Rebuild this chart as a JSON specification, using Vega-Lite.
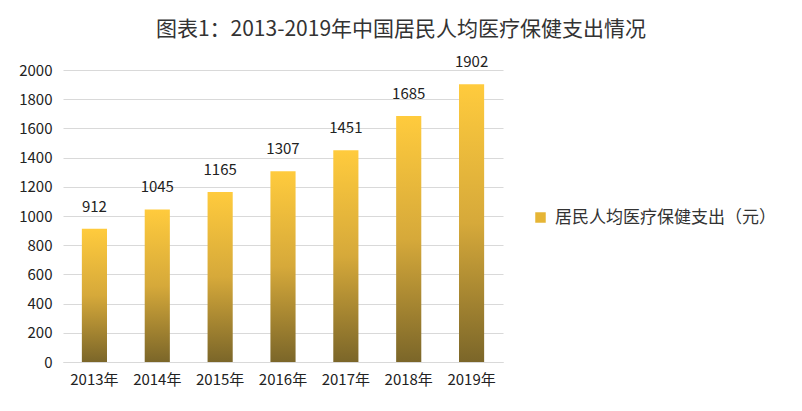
{
  "$schema": "https://vega.github.io/schema/vega-lite/v6.json",
  "width": 440,
  "height": 292,
  "autosize": "none",
  "padding": {"left": 63, "top": 70, "right": 299, "bottom": 49},
  "background": "white",
  "title": {
    "text": "图表1：2013-2019年中国居民人均医疗保健支出情况",
    "anchor": "middle",
    "dx": 118,
    "offset": 15,
    "font": "Noto Sans CJK SC",
    "fontSize": 21,
    "fontWeight": "normal",
    "color": "#333333"
  },
  "data": {
    "values": [
      {"year": "2013年", "value": 912, "series": "居民人均医疗保健支出（元）"},
      {"year": "2014年", "value": 1045, "series": "居民人均医疗保健支出（元）"},
      {"year": "2015年", "value": 1165, "series": "居民人均医疗保健支出（元）"},
      {"year": "2016年", "value": 1307, "series": "居民人均医疗保健支出（元）"},
      {"year": "2017年", "value": 1451, "series": "居民人均医疗保健支出（元）"},
      {"year": "2018年", "value": 1685, "series": "居民人均医疗保健支出（元）"},
      {"year": "2019年", "value": 1902, "series": "居民人均医疗保健支出（元）"}
    ]
  },
  "config": {
    "view": {"stroke": null},
    "font": "Noto Sans CJK SC"
  },
  "encoding": {
    "x": {
      "field": "year",
      "type": "nominal",
      "sort": null,
      "scale": {"paddingInner": 0.6, "paddingOuter": 0.3},
      "axis": {
        "title": null,
        "labelAngle": 0,
        "labelFont": "Noto Sans CJK SC",
        "labelFontSize": 15,
        "labelColor": "#222222",
        "labelPadding": 10,
        "ticks": false,
        "domainColor": "#d9d9d9",
        "domainWidth": 1
      }
    },
    "y": {
      "field": "value",
      "type": "quantitative",
      "scale": {"domain": [0, 2000]},
      "axis": {
        "title": null,
        "format": "d",
        "values": [0, 200, 400, 600, 800, 1000, 1200, 1400, 1600, 1800, 2000],
        "labelFont": "Noto Sans CJK SC",
        "labelFontSize": 15,
        "labelColor": "#222222",
        "labelPadding": 11,
        "ticks": false,
        "domain": false,
        "gridColor": "#d9d9d9",
        "gridWidth": 1
      }
    }
  },
  "layer": [
    {
      "mark": {
        "type": "bar",
        "fill": {
          "gradient": "linear",
          "x1": 0, "y1": 0, "x2": 0, "y2": 1,
          "stops": [
            {"offset": 0, "color": "#FFCB3D"},
            {"offset": 0.5, "color": "#D6A93A"},
            {"offset": 1, "color": "#7B6629"}
          ]
        }
      }
    },
    {
      "mark": {"type": "square", "opacity": 0, "size": 1},
      "encoding": {
        "color": {
          "field": "series",
          "type": "nominal",
          "scale": {"range": ["#E6B535"]},
          "legend": {
            "title": null,
            "orient": "none",
            "legendX": 469,
            "legendY": 139,
            "symbolType": "square",
            "symbolSize": 110,
            "symbolOpacity": 1,
            "symbolStrokeWidth": 0,
            "labelFont": "Noto Sans CJK SC",
            "labelFontSize": 17,
            "labelColor": "#333333",
            "labelOffset": 6,
            "labelLimit": 0,
            "encode": {
              "symbols": {
                "update": {
                  "fill": {
                    "value": {
                      "gradient": "linear",
                      "x1": 0, "y1": 0, "x2": 0, "y2": 1,
                      "stops": [
                        {"offset": 0, "color": "#FFCB3D"},
                        {"offset": 1, "color": "#9C7F2E"}
                      ]
                    }
                  },
                  "opacity": {"value": 1}
                }
              }
            }
          }
        }
      }
    },
    {
      "mark": {
        "type": "text",
        "baseline": "middle",
        "dy": -22,
        "font": "Noto Sans CJK SC",
        "fontSize": 15,
        "color": "#222222"
      },
      "encoding": {
        "text": {"field": "value", "type": "quantitative"}
      }
    }
  ]
}
